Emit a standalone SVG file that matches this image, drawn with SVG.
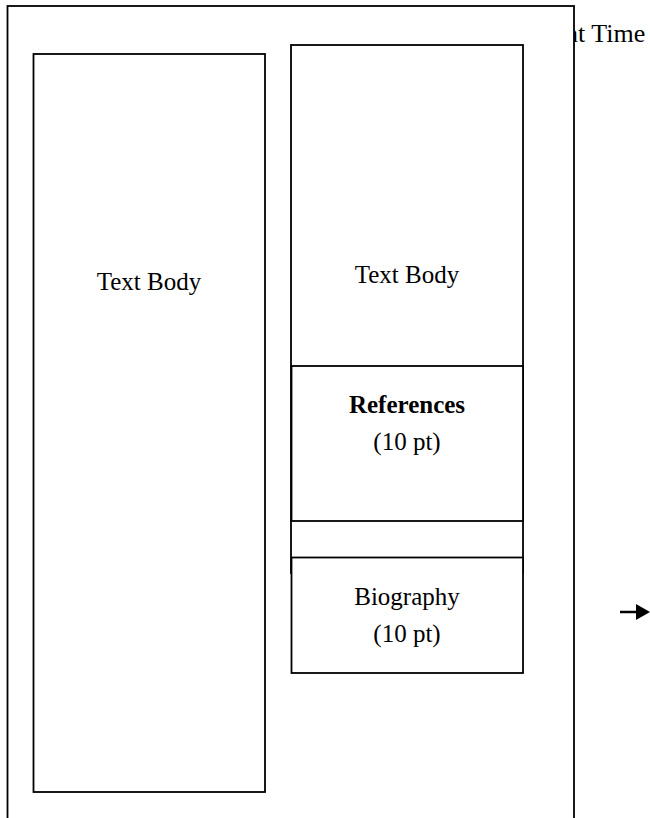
<svg xmlns="http://www.w3.org/2000/svg" width="650" height="818" viewBox="0 0 650 818">
  <style>
    .box { fill: #ffffff; stroke: #000000; stroke-width: 1.8; }
    .lbl { font-family: "Liberation Serif", "Times New Roman", serif; font-size: 25px; fill: #000000; text-anchor: middle; }
    .bold { font-weight: bold; }
  </style>
  <defs>
    <marker id="arrowhead" markerWidth="14" markerHeight="16" refX="0" refY="8" orient="auto" markerUnits="userSpaceOnUse" viewBox="0 0 14 16">
      <path d="M0,0 L14,8 L0,16 Z" fill="#000000"/>
    </marker>
  </defs>
  <rect x="0" y="0" width="650" height="818" fill="#ffffff"/>
  <text x="565" y="42" class="lbl" style="text-anchor:start;font-size:26px">nt Time</text>
  <g id="page">
    <rect class="box" x="7.5" y="6" width="566.5" height="830"/>
  </g>
  <g id="left-text-body">
    <rect class="box" x="33.5" y="54" width="231.5" height="738"/>
    <text x="149" y="290" class="lbl">Text Body</text>
  </g>
  <g id="right-column">
    <rect class="box" x="291" y="45" width="232" height="528"/>
  </g>
  <g id="right-text-body">
    <text x="407" y="283" class="lbl">Text Body</text>
  </g>
  <g id="references">
    <rect class="box" x="291.5" y="366" width="231.5" height="155"/>
    <text x="407" y="413" class="lbl bold">References</text>
    <text x="407" y="450" class="lbl">(10 pt)</text>
  </g>
  <g id="biography">
    <rect class="box" x="291.5" y="557.5" width="231.5" height="115.5"/>
    <text x="407" y="605" class="lbl">Biography</text>
    <text x="407" y="642" class="lbl">(10 pt)</text>
  </g>
  <g id="connectors">
    <line x1="620" y1="612" x2="636" y2="612" stroke="#000000" stroke-width="2.5" marker-end="url(#arrowhead)"/>
  </g>
</svg>
